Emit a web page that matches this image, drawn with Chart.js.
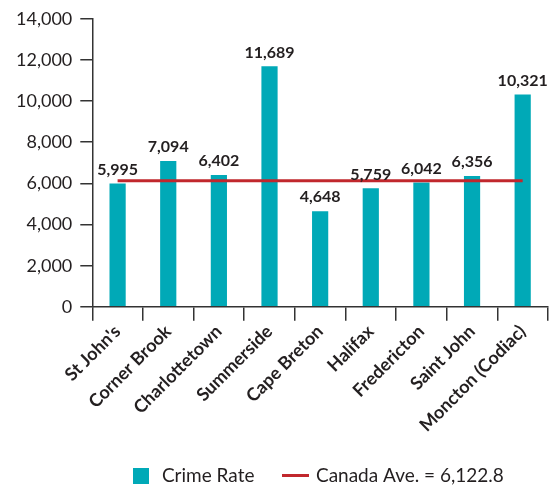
<!DOCTYPE html>
<html>
<head>
<meta charset="utf-8">
<script src="https://cdn.jsdelivr.net/npm/chart.js@4"></script>
<style>
  html, body { margin: 0; padding: 0; background: #fff; }
  #wrap { width: 549px; height: 485px; }
</style>
</head>
<body>
<div id="wrap"><canvas id="crimeChart" width="549" height="485"></canvas></div>
<script>
// Crime rate by city, with the Canada average as a flat line
const cities = [
  "St John's",
  "Corner Brook",
  "Charlottetown",
  "Summerside",
  "Cape Breton",
  "Halifax",
  "Fredericton",
  "Saint John",
  "Moncton (Codiac)",
];
const crimeRate = [5995, 7094, 6402, 11689, 4648, 5759, 6042, 6356, 10321];
const canadaAve = 6122.8;
const yTicks = [0, 2000, 4000, 6000, 8000, 10000, 12000, 14000];

const teal = "#00a9b7";
const red = "#c1272d";
const ink = "#231f20";

// small images used as legend markers
function makeMarker(w, h, draw) {
  const c = document.createElement("canvas");
  c.width = w;
  c.height = h;
  draw(c.getContext("2d"));
  return c;
}
const squareMarker = makeMarker(16, 16, (g) => {
  g.fillStyle = teal;
  g.fillRect(0, 0, 16, 16);
});
const lineMarker = makeMarker(27, 3, (g) => {
  g.fillStyle = red;
  g.fillRect(0, 0, 27, 3);
});

// draw value labels above the bars
const barLabels = {
  id: "barLabels",
  afterDatasetsDraw(chart) {
    const ctx = chart.ctx;
    const meta = chart.getDatasetMeta(0);
    ctx.save();
    ctx.font = "bold 16px Lato";
    ctx.fillStyle = ink;
    ctx.textAlign = "center";
    ctx.textBaseline = "bottom";
    meta.data.forEach((bar, i) => {
      ctx.fillText(crimeRate[i].toLocaleString("en-US"), bar.x, bar.y - 6);
    });
    ctx.restore();
  },
};

// center the legend under the plot area instead of the whole canvas
const legendUnderPlot = {
  id: "legendUnderPlot",
  afterLayout(chart) {
    const lg = chart.legend;
    lg.left = chart.chartArea.left - 6;
  },
};

const ctx = document.getElementById("crimeChart").getContext("2d");
const chart = new Chart(ctx, {
  data: {
    labels: cities,
    datasets: [
      {
        type: "bar",
        label: "Crime Rate",
        data: crimeRate,
        backgroundColor: teal,
        barPercentage: 0.32,
        categoryPercentage: 1,
        pointStyle: squareMarker,
        order: 2,
      },
      {
        type: "line",
        label: "Canada Ave. = 6,122.8",
        data: cities.map(() => canadaAve),
        borderColor: red,
        borderWidth: 3,
        pointRadius: 0,
        pointStyle: lineMarker,
        order: 1,
      },
    ],
  },
  options: {
    responsive: false,
    animation: false,
    layout: { padding: { left: 8, right: 1, top: 11, bottom: -10 } },
    plugins: {
      tooltip: { enabled: false },
      legend: {
        position: "bottom",
        labels: {
          usePointStyle: true,
          pointStyleWidth: 22,
          boxHeight: 16,
          padding: 30,
          color: ink,
          font: { family: "Lato", size: 19 },
          sort: (a, b) => a.datasetIndex - b.datasetIndex,
        },
      },
    },
    scales: {
      x: {
        offset: true,
        border: { color: "#333", width: 1.5 },
        grid: {
          offset: true,
          drawOnChartArea: false,
          tickLength: 14,
          color: "#333",
          lineWidth: 1.5,
        },
        ticks: {
          minRotation: 45,
          maxRotation: 45,
          color: ink,
          padding: 0,
          font: { family: "Lato", size: 18, weight: "bold" },
        },
      },
      y: {
        min: 0,
        max: 14000,
        afterBuildTicks: (axis) => {
          axis.ticks = yTicks.map((v) => ({ value: v }));
        },
        border: { color: "#333", width: 1.5 },
        grid: {
          drawOnChartArea: false,
          tickLength: 12,
          color: "#333",
          lineWidth: 1.5,
        },
        ticks: {
          color: ink,
          padding: 8,
          font: { family: "Lato", size: 18 },
          callback: (v) => v.toLocaleString("en-US"),
        },
      },
    },
  },
  plugins: [barLabels, legendUnderPlot],
});
</script>
</body>
</html>
